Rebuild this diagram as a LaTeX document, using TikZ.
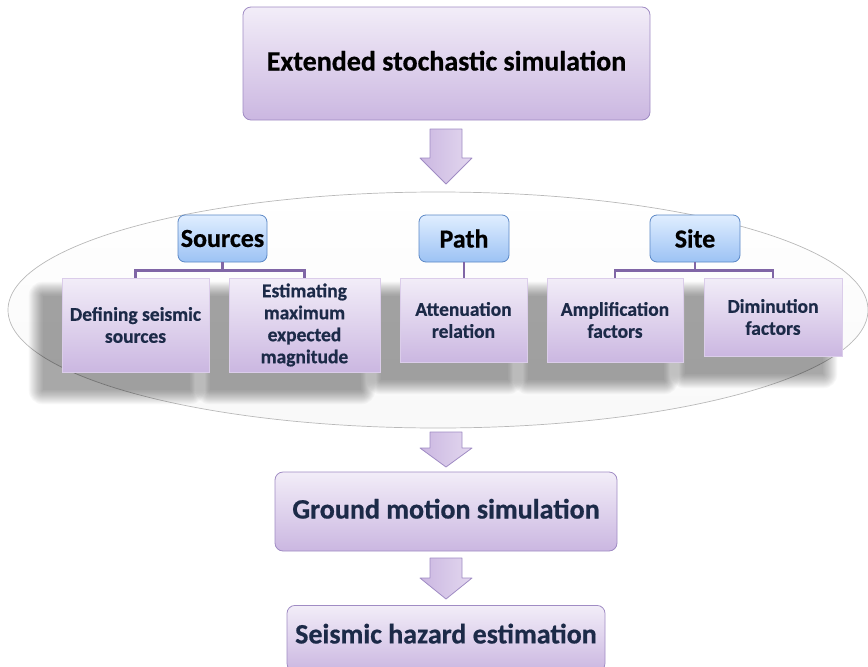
\documentclass[tikz,border=0pt]{standalone}
\usepackage{fontspec}
\setmainfont{Carlito}[BoldFeatures={FakeBold=0.6}]
\usetikzlibrary{backgrounds,calc}
\definecolor{boxtop}{HTML}{F2EDF8}
\definecolor{boxbot}{HTML}{CBB7E1}
\definecolor{boxedge}{HTML}{A08CC4}
\definecolor{bluetop}{HTML}{E0EEFF}
\definecolor{bluebot}{HTML}{9CC2F4}
\definecolor{blueedge}{HTML}{5C88C6}
\definecolor{navy}{HTML}{1C2A48}
\definecolor{linkc}{HTML}{8066A6}
\tikzset{
  mainbox/.style={draw=boxedge, line width=0.8pt, rounded corners=8pt, top color=boxtop, bottom color=boxbot, font=\fontsize{28}{32}\selectfont\bfseries, align=center, inner sep=0pt},
  catbox/.style={draw=blueedge, line width=0.8pt, rounded corners=7pt, top color=bluetop, bottom color=bluebot, font=\fontsize{26}{30}\selectfont\bfseries, minimum height=47pt, inner sep=0pt},
  itembox/.style={draw=boxbot!70!white, line width=0.6pt, top color=boxtop, bottom color=boxbot, text=navy, font=\fontsize{19.5}{22}\selectfont\bfseries, align=center, inner sep=0pt},
  shadowpiece/.style={fill=black, opacity=0.028},
  link/.style={draw=linkc, line width=2.6pt},
  barrow/.style={draw=boxedge, line width=0.8pt, left color=boxbot, right color=boxtop!60!boxbot, line join=round},
  group/.style={draw=gray!55, line width=0.7pt, top color=white, bottom color=gray!5}
}
\begin{document}
\begin{tikzpicture}[x=1pt,y=-1pt]
\useasboundingbox (0,0) rectangle (868,667);
% main boxes
\node[mainbox, minimum width=407pt, minimum height=113pt, text height=20pt, text depth=6pt] (ess) at (446.5,63.5) {Extended stochastic simulation};
\node[mainbox, text=navy, minimum width=342pt, minimum height=79pt, text height=20pt, text depth=6pt] (gms) at (446,511.5) {Ground motion simulation};
\node[mainbox, text=navy, minimum width=318pt, minimum height=66pt, text height=20pt, text depth=10pt, anchor=north] (she) at (446,605) {Seismic hazard estimation};
% category boxes
\node[catbox, minimum width=89pt] (src) at (222.5,238.5) {Sources};
\node[catbox, minimum width=90pt] (pth) at (464,238.5) {Path};
\node[catbox, minimum width=90pt] (sit) at (695,238.5) {Site};
% item boxes
\node[itembox, minimum width=147pt, minimum height=94pt] (def) at (135.5,325) {Defining seismic\\sources};
\node[itembox, minimum width=151pt, minimum height=94pt] (est) at (304.5,325) {Estimating\\maximum\\expected\\magnitude};
\node[itembox, minimum width=127pt, minimum height=84pt] (att) at (463.5,320) {Attenuation\\relation};
\node[itembox, minimum width=136pt, minimum height=84pt] (amp) at (615,320) {Amplification\\factors};
\node[itembox, minimum width=138pt, minimum height=78pt] (dim) at (773,317) {Diminution\\factors};
\begin{scope}[on background layer]
  % group ellipse
  \draw[group] (438,310) ellipse [x radius=430pt, y radius=118pt];
  % soft shadows of the item boxes
  \foreach \n in {def,est,att,amp,dim}{
    \foreach \r in {14,13,...,0}{
      \fill[shadowpiece, rounded corners=\r pt] ($(\n.south west)+(-19-\r,18+\r)$) rectangle ($(\n.north east)+(-19+\r,18-\r)$);
    }
  }
\end{scope}
% links
\draw[link] (src.south) -- ++(0,8) -| (def.north);
\draw[link] (src.south) -- ++(0,8) -| (est.north);
\draw[link] (pth.south) -- (pth.south |- att.north);
\draw[link] (sit.south) -- ++(0,8) -| (amp.north);
\draw[link] (sit.south) -- ++(0,8) -| (dim.north);
% block arrows
\draw[barrow] (430,129) -- (462,129) -- (462,158) -- (472,158) -- (446,184) -- (420,158) -- (430,158) -- cycle;
\draw[barrow] (430,432) -- (462,432) -- (462,448) -- (472,448) -- (446,467) -- (420,448) -- (430,448) -- cycle;
\draw[barrow] (430,558) -- (462,558) -- (462,578) -- (472,578) -- (446,599) -- (420,578) -- (430,578) -- cycle;
\end{tikzpicture}
\end{document}
